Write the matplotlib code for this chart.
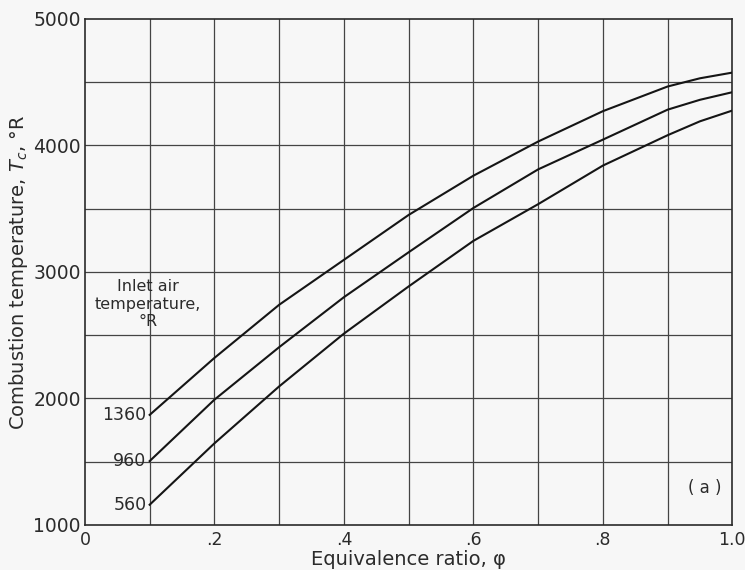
import matplotlib.pyplot as plt
from matplotlib.ticker import FixedLocator, FuncFormatter

# equivalence ratio and combustion temperature (deg R)
phi = [0.1, 0.2, 0.3, 0.4, 0.5, 0.6, 0.7, 0.8, 0.9, 0.95, 1.0]
t_1360 = [1870, 2320, 2740, 3095, 3450, 3760, 4030, 4270, 4465, 4530, 4575]
t_960 = [1505, 1990, 2405, 2800, 3155, 3505, 3810, 4045, 4282, 4360, 4420]
t_560 = [1160, 1645, 2095, 2512, 2885, 3245, 3535, 3840, 4080, 4190, 4275]
inlet_labels = ["1360", "960", "560"]

xticks = [0, 0.2, 0.4, 0.6, 0.8, 1.0]
yticks = [1000, 2000, 3000, 4000, 5000]

ink = "#2b2b2b"
plt.rcParams['font.family'] = ['DejaVu Sans']

fig = plt.figure(figsize=(7.45, 5.7), dpi=100)
ax = fig.add_axes([0.114, 0.079, 0.869, 0.888])
fig.patch.set_facecolor("#f7f7f7")
ax.set_facecolor("#f7f7f7")

# grid every 0.1 and 500
for gx in [i / 10 for i in range(1, 10)]:
    ax.axvline(gx, color="#444444", lw=0.9, zorder=1)
for gy in range(1500, 5000, 500):
    ax.axhline(gy, color="#444444", lw=0.9, zorder=1)

for temps, lab in zip([t_1360, t_960, t_560], inlet_labels):
    ax.plot(phi, temps, color="#151515", lw=1.5, zorder=3)
    ax.text(phi[0] - 0.005, temps[0], lab, ha="right", va="center",
            fontsize=12.5, color=ink)

ax.text(0.097, 2745, "Inlet air\ntemperature,\n\u00b0R", ha="center",
        va="center", fontsize=11.5, color=ink, linespacing=1.2)
ax.text(0.958, 1290, "( a )", ha="center", va="center", fontsize=12,
        color=ink)

ax.set_xlim(0, 1.0)
ax.set_ylim(1000, 5000)
ax.xaxis.set_major_locator(FixedLocator(xticks))
ax.yaxis.set_major_locator(FixedLocator(yticks))
ax.xaxis.set_major_formatter(FuncFormatter(
    lambda v, p: "0" if v == 0 else ("1.0" if v == 1 else ("%.1f" % v)[1:])))
ax.tick_params(axis="y", length=0, labelsize=13.5, colors=ink, pad=3)
ax.tick_params(axis="x", length=0, labelsize=12.5, colors=ink, pad=4)
for s in ax.spines.values():
    s.set_color("#2a2a2a")
    s.set_linewidth(1.2)

ax.set_xlabel("Equivalence ratio, \u03c6", fontsize=14, color=ink, labelpad=1)
ax.set_ylabel("Combustion temperature, $T_c$, \u00b0R", fontsize=14,
              color=ink, labelpad=2)

fig.savefig("out.png", dpi=100, facecolor=fig.get_facecolor())
